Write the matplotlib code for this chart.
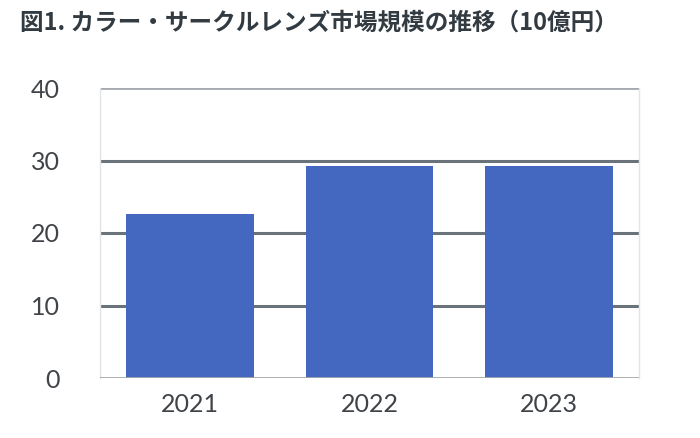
import matplotlib

matplotlib.use("Agg")
import matplotlib.pyplot as plt

plt.rcParams["font.family"] = ["Lato", "Noto Sans CJK JP", "DejaVu Sans"]

years = ["2021", "2022", "2023"]
market_size = [22.6, 29.3, 29.3]
y_ticks = [0, 10, 20, 30, 40]
title = "図1. カラー・サークルレンズ市場規模の推移（10億円）"

fig = plt.figure(figsize=(7, 4.38), dpi=100)
ax = fig.add_axes([100 / 700, 1 - 378 / 438, 539 / 700, 290 / 438])

ax.bar(range(len(years)), market_size, width=0.71, color="#4468C0", zorder=3)
ax.set_xlim(-0.5, len(years) - 0.5)
ax.set_ylim(0, 40)

for t in y_ticks[1:-1]:
    ax.axhline(t, color="#6B737A", linewidth=2.2, zorder=2)
ax.axhline(40, color="#A5A9AD", linewidth=2.0, zorder=2)
ax.axhline(0, color="#A5A9AD", linewidth=2.0, zorder=4)

for side in ["left", "right"]:
    ax.spines[side].set_color("#E2E5E8")
    ax.spines[side].set_linewidth(1.0)
ax.spines[["top", "bottom"]].set_visible(False)

ax.set_xticks(range(len(years)), years)
ax.set_yticks(y_ticks)
ax.tick_params(length=0, labelsize=18, labelcolor="#404448")
ax.tick_params(axis="x", pad=11)
ax.tick_params(axis="y", pad=29)

fig.text(20 / 700, 1 - 23 / 438, title, fontsize=17, fontweight="bold",
         color="#333B42", va="center", ha="left",
         family=["Noto Sans CJK JP", "DejaVu Sans"])

fig.savefig("out.png", dpi=100, facecolor="white")
